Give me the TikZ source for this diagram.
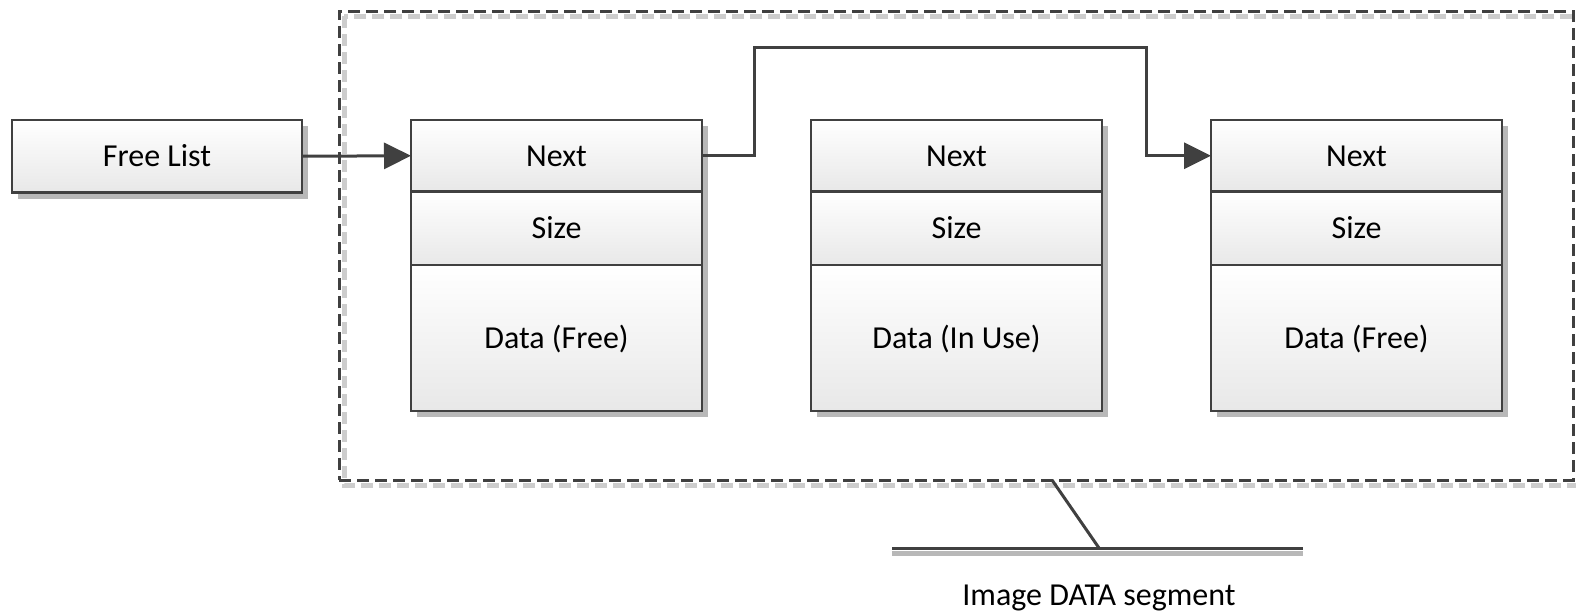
\documentclass[tikz,border=0pt]{standalone}
\usepackage{fontspec}
\setmainfont{Carlito}
\usetikzlibrary{arrows.meta,shadows,calc}
\definecolor{ink}{HTML}{404040}
\definecolor{cellbot}{HTML}{E8E8E8}
\definecolor{shade}{HTML}{B8B8B8}
\definecolor{dashshade}{HTML}{CDCDCD}
\tikzset{
  cell/.style={draw=ink, line width=2.6pt, top color=white, bottom color=cellbot,
    minimum width=291pt, inner sep=0pt, outer sep=0pt, anchor=north west,
    font=\fontsize{32}{38}\selectfont, text height=20.5pt, text depth=0pt,
    general shadow={fill=shade, shadow xshift=6pt, shadow yshift=-6pt}},
  nextcell/.style={cell, minimum height=71.5pt},
  sizecell/.style={cell, minimum height=73.5pt},
  datacell/.style={cell, minimum height=146pt},
  conn/.style={draw=ink, line width=3pt, -{Triangle[length=27pt,width=26pt]}},
  segframe/.style={draw=ink, line width=3pt, dash pattern=on 12pt off 6pt,
    minimum width=1234pt, minimum height=469pt, inner sep=0pt, outer sep=0pt,
    anchor=north west},
  segshadow/.style={draw=dashshade, line width=5pt, dash pattern=on 12pt off 6pt},
  callout/.style={draw=ink, line width=3pt},
  calloutshadow/.style={draw=shade, line width=5pt},
  label/.style={font=\fontsize{32}{38}\selectfont, text height=20.5pt, text depth=0pt, inner sep=0pt}
}
\begin{document}
\begin{tikzpicture}[x=1pt, y=-1pt]
  \useasboundingbox (0,0) rectangle (1576,613);

  % memory segment outline with its soft offset copy
  \draw[segshadow] (344,16) rectangle (1578,485);
  \node[segframe] (seg) at (339,11) {};

  % head pointer
  \node[cell, minimum width=290pt, minimum height=72.5pt] (free) at (12,120) {Free List};

  % first block (free)
  \node[nextcell] (A-next) at (411,120) {Next};
  \node[sizecell] (A-size) at (A-next.south west) {Size};
  \node[datacell] (A-data) at (A-size.south west) {Data (Free)};

  % second block (in use)
  \node[nextcell] (B-next) at (811,120) {Next};
  \node[sizecell] (B-size) at (B-next.south west) {Size};
  \node[datacell] (B-data) at (B-size.south west) {Data (In Use)};

  % third block (free)
  \node[nextcell] (C-next) at (1211,120) {Next};
  \node[sizecell] (C-size) at (C-next.south west) {Size};
  \node[datacell] (C-data) at (C-size.south west) {Data (Free)};

  % list links
  \draw[conn] (free.east) -- (A-next.west);
  \coordinate (hopA) at (754,47);
  \coordinate (hopC) at (1146,47);
  \draw[conn] (A-next.east) -| (hopA) -- (hopC) |- (C-next.west);

  % segment caption with leader
  \coordinate (lead) at ([xshift=96pt]seg.south);
  \coordinate (knee) at (1099,548);
  \coordinate (shelfL) at (892,548);
  \coordinate (shelfR) at (1303,548);
  \draw[calloutshadow] ([yshift=-5pt]shelfL) -- ([yshift=-5pt]shelfR);
  \draw[callout] (lead) -- (knee);
  \draw[callout] (shelfL) -- (shelfR);
  \node[label] (caption) at (1099,595) {Image DATA segment};
\end{tikzpicture}
\end{document}
